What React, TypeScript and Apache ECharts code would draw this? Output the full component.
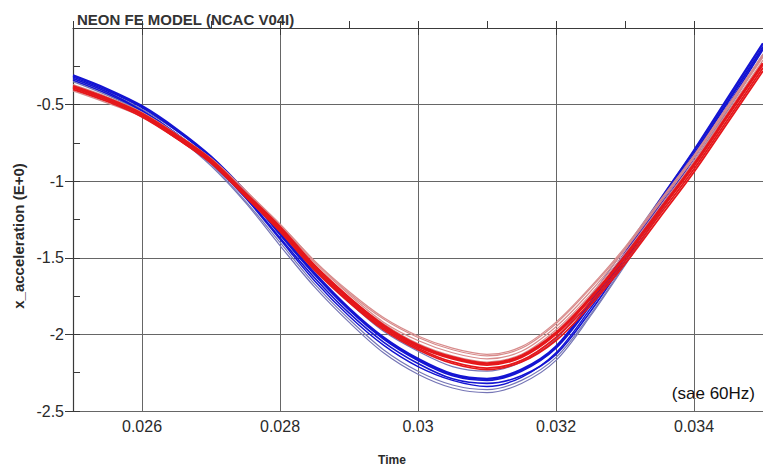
import React, { useEffect, useRef } from "react";
import * as echarts from "echarts";

const titleText = "NEON FE MODEL (NCAC V04I)";
const xName = "Time";
const yName = "x_acceleration (E+0)";
const noteText = "(sae 60Hz)";

const time = [
  0.025, 0.0255, 0.026, 0.0265, 0.027, 0.0275, 0.028, 0.0285, 0.029, 0.0295, 0.03,
  0.0305, 0.031, 0.0315, 0.032, 0.0325, 0.033, 0.0335, 0.034, 0.0345, 0.035,
];

// blue runs
const blue1 = [-0.31, -0.40, -0.51, -0.66, -0.84, -1.07, -1.34, -1.60, -1.83, -2.02, -2.16, -2.26, -2.29, -2.23, -2.08, -1.79, -1.47, -1.13, -0.80, -0.45, -0.10];
const blue2 = [-0.34, -0.43, -0.55, -0.71, -0.90, -1.14, -1.42, -1.69, -1.92, -2.12, -2.26, -2.35, -2.38, -2.32, -2.17, -1.88, -1.55, -1.21, -0.88, -0.53, -0.18];
const blue3 = [-0.33, -0.42, -0.54, -0.69, -0.87, -1.10, -1.37, -1.63, -1.86, -2.05, -2.19, -2.29, -2.32, -2.27, -2.13, -1.85, -1.52, -1.18, -0.85, -0.50, -0.14];
const blue4 = [-0.33, -0.42, -0.53, -0.67, -0.84, -1.06, -1.32, -1.57, -1.79, -1.98, -2.11, -2.21, -2.24, -2.18, -2.03, -1.75, -1.44, -1.12, -0.80, -0.47, -0.13];
const blue5 = [-0.32, -0.41, -0.52, -0.67, -0.85, -1.08, -1.35, -1.61, -1.84, -2.03, -2.17, -2.27, -2.30, -2.24, -2.09, -1.81, -1.49, -1.15, -0.82, -0.47, -0.12];
const blue6 = [-0.35, -0.44, -0.55, -0.70, -0.89, -1.13, -1.40, -1.67, -1.90, -2.10, -2.24, -2.33, -2.36, -2.30, -2.15, -1.87, -1.54, -1.20, -0.87, -0.52, -0.17];
const blue7 = [-0.34, -0.43, -0.54, -0.69, -0.88, -1.11, -1.38, -1.65, -1.88, -2.07, -2.21, -2.30, -2.34, -2.28, -2.12, -1.83, -1.50, -1.16, -0.83, -0.48, -0.13];

// red runs
const red1 = [-0.38, -0.46, -0.56, -0.70, -0.86, -1.08, -1.30, -1.55, -1.76, -1.94, -2.07, -2.15, -2.19, -2.14, -1.99, -1.76, -1.49, -1.19, -0.89, -0.56, -0.23];
const red2 = [-0.40, -0.48, -0.57, -0.71, -0.86, -1.07, -1.28, -1.52, -1.72, -1.89, -2.01, -2.09, -2.13, -2.08, -1.92, -1.69, -1.43, -1.13, -0.83, -0.50, -0.17];
const red3 = [-0.39, -0.47, -0.57, -0.72, -0.88, -1.10, -1.32, -1.57, -1.78, -1.96, -2.09, -2.18, -2.22, -2.17, -2.02, -1.79, -1.52, -1.22, -0.92, -0.59, -0.26];
const red4 = [-0.37, -0.45, -0.55, -0.69, -0.85, -1.06, -1.29, -1.53, -1.74, -1.92, -2.04, -2.12, -2.16, -2.11, -1.95, -1.72, -1.45, -1.15, -0.85, -0.52, -0.19];
const red5 = [-0.40, -0.48, -0.58, -0.72, -0.88, -1.10, -1.33, -1.58, -1.79, -1.97, -2.10, -2.19, -2.23, -2.18, -2.04, -1.81, -1.54, -1.24, -0.94, -0.61, -0.28];
const red6 = [-0.38, -0.46, -0.56, -0.70, -0.85, -1.06, -1.28, -1.52, -1.73, -1.90, -2.02, -2.10, -2.14, -2.09, -1.93, -1.70, -1.44, -1.14, -0.84, -0.51, -0.18];
const red7 = [-0.39, -0.47, -0.56, -0.71, -0.87, -1.09, -1.31, -1.56, -1.77, -1.95, -2.08, -2.16, -2.20, -2.15, -2.00, -1.77, -1.50, -1.20, -0.90, -0.57, -0.24];
const red8 = [-0.41, -0.49, -0.58, -0.72, -0.87, -1.08, -1.30, -1.55, -1.76, -1.93, -2.06, -2.14, -2.18, -2.13, -1.97, -1.74, -1.47, -1.17, -0.87, -0.54, -0.21];

const SAT_BLUE = "#1414d2";
const LIGHT_BLUE = "#7676b6";
const SAT_RED = "#e5171b";
const LIGHT_RED = "#d88c8c";

const runs = [
  { v: blue2, c: LIGHT_BLUE, w: 1.2 },
  { v: blue4, c: LIGHT_BLUE, w: 1.2 },
  { v: blue6, c: LIGHT_BLUE, w: 1.2 },
  { v: blue3, c: SAT_BLUE, w: 1.6 },
  { v: blue5, c: SAT_BLUE, w: 1.6 },
  { v: blue7, c: SAT_BLUE, w: 1.4 },
  { v: blue1, c: SAT_BLUE, w: 2.4 },
  { v: red2, c: LIGHT_RED, w: 1.2 },
  { v: red4, c: LIGHT_RED, w: 1.2 },
  { v: red6, c: LIGHT_RED, w: 1.2 },
  { v: red8, c: LIGHT_RED, w: 1.2 },
  { v: red3, c: SAT_RED, w: 1.8 },
  { v: red5, c: SAT_RED, w: 1.8 },
  { v: red7, c: SAT_RED, w: 1.8 },
  { v: red1, c: SAT_RED, w: 2.6 },
];

export default function App() {
  const ref = useRef<HTMLDivElement>(null);
  useEffect(() => {
    if (!ref.current) return;
    const chart = echarts.init(ref.current, null, { renderer: "svg" });
    const font = "'Liberation Sans', Arial, sans-serif";
    const axisColor = "#3a3a3a";
    const gridColor = "#666666";
    chart.setOption({
      animation: false,
      backgroundColor: "#ffffff",
      grid: { left: 73, top: 28, width: 692, height: 383, containLabel: false },
      title: {
        text: titleText,
        left: 72,
        top: 7,
        textStyle: { fontFamily: font, fontSize: 15, fontWeight: "bold", color: "#333" },
      },
      xAxis: [
        {
          type: "value",
          min: 0.025,
          max: 0.035,
          splitNumber: 5,
          axisLine: { show: true, lineStyle: { color: axisColor, width: 1.2 } },
          axisTick: { show: true, length: 7, lineStyle: { color: axisColor } },
          axisLabel: {
            showMinLabel: false,
            showMaxLabel: false,
            margin: 7,
            fontFamily: font,
            fontSize: 16,
            color: "#2a2a2a",
          },
          splitLine: { show: true, lineStyle: { color: gridColor, width: 1 } },
        },
        {
          type: "value",
          position: "bottom",
          min: 0.025,
          max: 0.035,
          interval: 0.001,
          axisLine: { show: false },
          axisTick: { show: true, inside: true, length: 7, lineStyle: { color: axisColor } },
          axisLabel: { show: false },
          splitLine: { show: false },
        },
      ],
      yAxis: [
        {
          type: "value",
          min: -2.5,
          max: 0,
          interval: 0.5,
          axisLine: { show: true, lineStyle: { color: axisColor, width: 1.2 } },
          axisTick: { show: true, length: 8, lineStyle: { color: axisColor } },
          axisLabel: {
            showMaxLabel: false,
            margin: 9,
            fontFamily: font,
            fontSize: 16,
            color: "#2a2a2a",
          },
          splitLine: { show: true, lineStyle: { color: gridColor, width: 1 } },
        },
        {
          type: "value",
          position: "left",
          min: -2.5,
          max: 0,
          interval: 0.25,
          axisLine: { show: false },
          axisTick: { show: true, inside: true, length: 7, lineStyle: { color: axisColor } },
          axisLabel: { show: false },
          splitLine: { show: false },
        },
      ],
      graphic: [
        {
          type: "text",
          x: 18,
          y: 236,
          rotation: Math.PI / 2,
          style: {
            text: yName,
            fontFamily: font,
            fontSize: 15,
            fontWeight: "bold",
            fill: "#2a2a2a",
            textAlign: "center",
            textVerticalAlign: "middle",
          },
        },
        {
          type: "text",
          x: 392,
          y: 460,
          style: {
            text: xName,
            fontFamily: font,
            fontSize: 12,
            fontWeight: "bold",
            fill: "#2a2a2a",
            textAlign: "center",
            textVerticalAlign: "middle",
          },
        },
        {
          type: "text",
          x: 755,
          y: 393,
          style: {
            text: noteText,
            fontFamily: font,
            fontSize: 17,
            fill: "#111",
            textAlign: "right",
            textVerticalAlign: "middle",
          },
        },
      ],
      series: runs.map((r, i) => ({
        type: "line",
        name: "run" + i,
        xAxisIndex: 0,
        yAxisIndex: 0,
        showSymbol: false,
        smooth: 0.33,
        clip: true,
        lineStyle: { color: r.c, width: r.w },
        data: time.map((t, k) => [t, r.v[k]]),
      })),
    });
    return () => chart.dispose();
  }, []);
  return (
    <div
      ref={ref}
      style={{ position: "absolute", left: 0, top: 0, width: 763, height: 470, background: "#fff" }}
    />
  );
}
